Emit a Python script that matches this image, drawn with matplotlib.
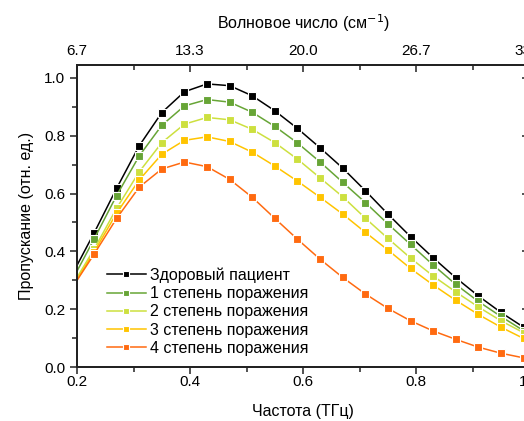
import matplotlib
matplotlib.use('Agg')
import matplotlib.pyplot as plt
from matplotlib.ticker import MultipleLocator

plt.rcParams['font.family'] = ['Liberation Sans', 'DejaVu Sans']

# частота, ТГц (первая точка - начало кривой на краю оси, без маркера)
freq = [0.20, 0.23, 0.27, 0.31, 0.35, 0.39, 0.43, 0.47, 0.51, 0.55, 0.59,
        0.63, 0.67, 0.71, 0.75, 0.79, 0.83, 0.87, 0.91, 0.95, 0.99]

healthy = [0.352, 0.463, 0.618, 0.765, 0.880, 0.952, 0.979, 0.973, 0.938, 0.886, 0.825,
           0.758, 0.688, 0.610, 0.529, 0.451, 0.378, 0.309, 0.246, 0.189, 0.138]
stage1 = [0.332, 0.442, 0.593, 0.730, 0.836, 0.903, 0.925, 0.916, 0.881, 0.832, 0.775,
          0.709, 0.639, 0.569, 0.495, 0.424, 0.353, 0.286, 0.227, 0.175, 0.126]
stage2 = [0.310, 0.407, 0.549, 0.675, 0.776, 0.840, 0.863, 0.855, 0.822, 0.776, 0.719,
          0.654, 0.589, 0.515, 0.445, 0.377, 0.315, 0.260, 0.208, 0.160, 0.119]
stage3 = [0.302, 0.398, 0.532, 0.647, 0.736, 0.784, 0.796, 0.780, 0.743, 0.695, 0.643,
          0.587, 0.529, 0.466, 0.405, 0.341, 0.284, 0.231, 0.182, 0.138, 0.099]
stage4 = [0.300, 0.390, 0.514, 0.622, 0.685, 0.709, 0.693, 0.649, 0.587, 0.514, 0.442,
          0.373, 0.310, 0.253, 0.203, 0.160, 0.125, 0.096, 0.069, 0.048, 0.032]

series = [healthy, stage1, stage2, stage3, stage4]
names = ['Здоровый пациент', '1 степень поражения', '2 степень поражения',
         '3 степень поражения', '4 степень поражения']
colors = ['#000000', '#67a536', '#cde03f', '#ffc400', '#ff6a10']

freq_ticks = [0.2, 0.4, 0.6, 0.8, 1.0]
wn_labels = ['6.7', '13.3', '20.0', '26.7', '33.3']

axis_color = '#222222'

fig = plt.figure(figsize=(5.24, 4.21), dpi=100)
ax = fig.add_axes([0.147, 0.128, 0.863, 0.718])

for y, name, c in zip(series, names, colors):
    ax.plot(freq, y, '-', color=c, lw=1.1, marker='s', ms=5.6,
            markeredgecolor='white', markeredgewidth=0.8,
            markevery=slice(1, None), label=name)

ax.set_xlim(0.2, 1.0)
ax.set_ylim(0.0, 1.045)
ax.set_xticks(freq_ticks)
ax.xaxis.set_minor_locator(MultipleLocator(0.1))
ax.yaxis.set_major_locator(MultipleLocator(0.2))
ax.yaxis.set_minor_locator(MultipleLocator(0.1))
ax.xaxis.set_major_formatter(plt.FormatStrFormatter('%.1f'))
ax.yaxis.set_major_formatter(plt.FormatStrFormatter('%.1f'))

ax.tick_params(which='both', direction='out', labelsize=11, width=1.1, color=axis_color)
ax.tick_params(which='major', length=5)
ax.tick_params(which='minor', length=3.5)
ax.tick_params(axis='x', pad=0.5)

ax.set_xlabel('Частота (ТГц)', fontsize=11.5, labelpad=11)
ax.set_ylabel('Пропускание (отн. ед.)', fontsize=11.5, labelpad=7)

# правая ось - только засечки внутрь
right = ax.twinx()
right.set_ylim(ax.get_ylim())
right.yaxis.set_major_locator(MultipleLocator(0.2))
right.yaxis.set_minor_locator(MultipleLocator(0.1))
right.tick_params(which='both', direction='in', labelright=False, width=1.1, color=axis_color)
right.tick_params(which='major', length=5)
right.tick_params(which='minor', length=3.5)

# верхняя шкала - волновое число
top = ax.twiny()
top.set_xlim(ax.get_xlim())
top.set_xticks(freq_ticks)
top.set_xticklabels(wn_labels)
top.xaxis.set_minor_locator(MultipleLocator(0.1))
top.tick_params(which='both', direction='in', labelsize=11, width=1.1, color=axis_color, pad=5)
top.tick_params(which='major', length=5)
top.tick_params(which='minor', length=3.5)
top.set_xlabel('Волновое число (см$^{-1}$)', fontsize=11.5, labelpad=11)

for a in (ax, right, top):
    for s in a.spines.values():
        s.set_linewidth(1.2)
        s.set_color(axis_color)

leg = ax.legend(loc='lower left', bbox_to_anchor=(0.035, -0.01), frameon=False,
                fontsize=11.5, handlelength=2.4, handletextpad=0.3,
                labelspacing=0.2, markerscale=0.85)

fig.savefig('out.png', dpi=100)
